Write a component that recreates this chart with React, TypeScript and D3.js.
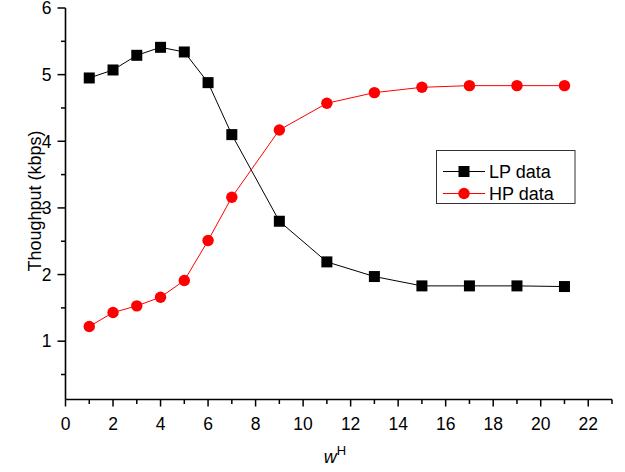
import React from "react";
import * as d3 from "d3";

const xValues = [1, 2, 3, 4, 5, 6, 7, 9, 11, 13, 15, 17, 19, 21];
const lpData = [4.95, 5.07, 5.29, 5.41, 5.34, 4.88, 4.10, 2.80, 2.19, 1.97, 1.83, 1.83, 1.83, 1.82];
const hpData = [1.22, 1.43, 1.53, 1.66, 1.91, 2.51, 3.16, 4.17, 4.57, 4.73, 4.81, 4.835, 4.835, 4.835];
const xTicks = [0, 2, 4, 6, 8, 10, 12, 14, 16, 18, 20, 22];
const yTicks = [1, 2, 3, 4, 5, 6];
const seriesNames = ["LP data", "HP data"];

const W = 625;
const H = 472;
const left = 65.5;
const right = 612;
const top = 8;
const bottom = 399.5;

export default function App() {
  const x = d3.scaleLinear().domain([0, 23]).range([left, right]);
  const y = d3.scaleLinear().domain([0.125, 6]).range([bottom, top]);
  const line = d3
    .line<[number, number]>()
    .x((d) => x(d[0]))
    .y((d) => y(d[1]));
  const lp: [number, number][] = xValues.map((v, i) => [v, lpData[i]]);
  const hp: [number, number][] = xValues.map((v, i) => [v, hpData[i]]);
  const xMinor = d3.range(1, 24, 2);
  const yMinor = d3.range(0.5, 6, 1);
  const font = "Liberation Sans, Arial, sans-serif";
  const sq = 11;

  return (
    <svg
      width={W}
      height={H}
      style={{ position: "absolute", left: 0, top: 0, background: "#fff" }}
      fontFamily={font}
    >
      {/* lines */}
      <path d={line(lp) || ""} fill="none" stroke="#000" strokeWidth={1} />
      <path d={line(hp) || ""} fill="none" stroke="#ff0000" strokeWidth={1} />
      {lp.map((d, i) => (
        <rect key={"lp" + i} x={x(d[0]) - sq / 2} y={y(d[1]) - sq / 2} width={sq} height={sq} fill="#000" />
      ))}
      {hp.map((d, i) => (
        <circle key={"hp" + i} cx={x(d[0])} cy={y(d[1])} r={5.7} fill="#ff0000" />
      ))}

      {/* axes */}
      <line x1={left} x2={left} y1={top} y2={bottom} stroke="#000" strokeWidth={1.6} />
      <line x1={left} x2={right} y1={bottom} y2={bottom} stroke="#000" strokeWidth={1.6} />
      {xTicks.map((t) => (
        <g key={"xt" + t}>
          <line x1={x(t)} x2={x(t)} y1={bottom} y2={bottom + 7} stroke="#000" strokeWidth={1.5} />
          <text x={x(t)} y={bottom + 30} textAnchor="middle" fontSize={17.5} fill="#000">
            {t}
          </text>
        </g>
      ))}
      {xMinor.map((t) => (
        <line key={"xm" + t} x1={x(t)} x2={x(t)} y1={bottom} y2={bottom + 4.5} stroke="#000" strokeWidth={1.5} />
      ))}
      {yTicks.map((t) => (
        <g key={"yt" + t}>
          <line x1={left} x2={left - 8} y1={y(t)} y2={y(t)} stroke="#000" strokeWidth={1.5} />
          <text x={left - 14} y={y(t) + 6.3} textAnchor="end" fontSize={17.5} fill="#000">
            {t}
          </text>
        </g>
      ))}
      {yMinor.map((t) => (
        <line key={"ym" + t} x1={left} x2={left - 4.5} y1={y(t)} y2={y(t)} stroke="#000" strokeWidth={1.5} />
      ))}

      {/* axis titles */}
      <text
        transform={`translate(40.5, 201) rotate(-90)`}
        textAnchor="middle"
        fontSize={18}
        fill="#000"
      >
        Thoughput (kbps)
      </text>
      <text x={335} y={463} textAnchor="middle" fontSize={18} fill="#000">
        <tspan fontStyle="italic">w</tspan>
        <tspan fontSize={13} dy={-8}>H</tspan>
      </text>

      {/* legend */}
      <rect x={436.5} y={150.5} width={138.5} height={53} fill="#fff" stroke="#333" strokeWidth={1} />
      <line x1={443} x2={485} y1={171.5} y2={171.5} stroke="#000" strokeWidth={1} />
      <rect x={464 - sq / 2} y={171.5 - sq / 2} width={sq} height={sq} fill="#000" />
      <text x={489} y={178} fontSize={18} fill="#000">
        {seriesNames[0]}
      </text>
      <line x1={443} x2={485} y1={193.5} y2={193.5} stroke="#ff0000" strokeWidth={1} />
      <circle cx={464} cy={193.5} r={5.7} fill="#ff0000" />
      <text x={489} y={200} fontSize={18} fill="#000">
        {seriesNames[1]}
      </text>
    </svg>
  );
}
